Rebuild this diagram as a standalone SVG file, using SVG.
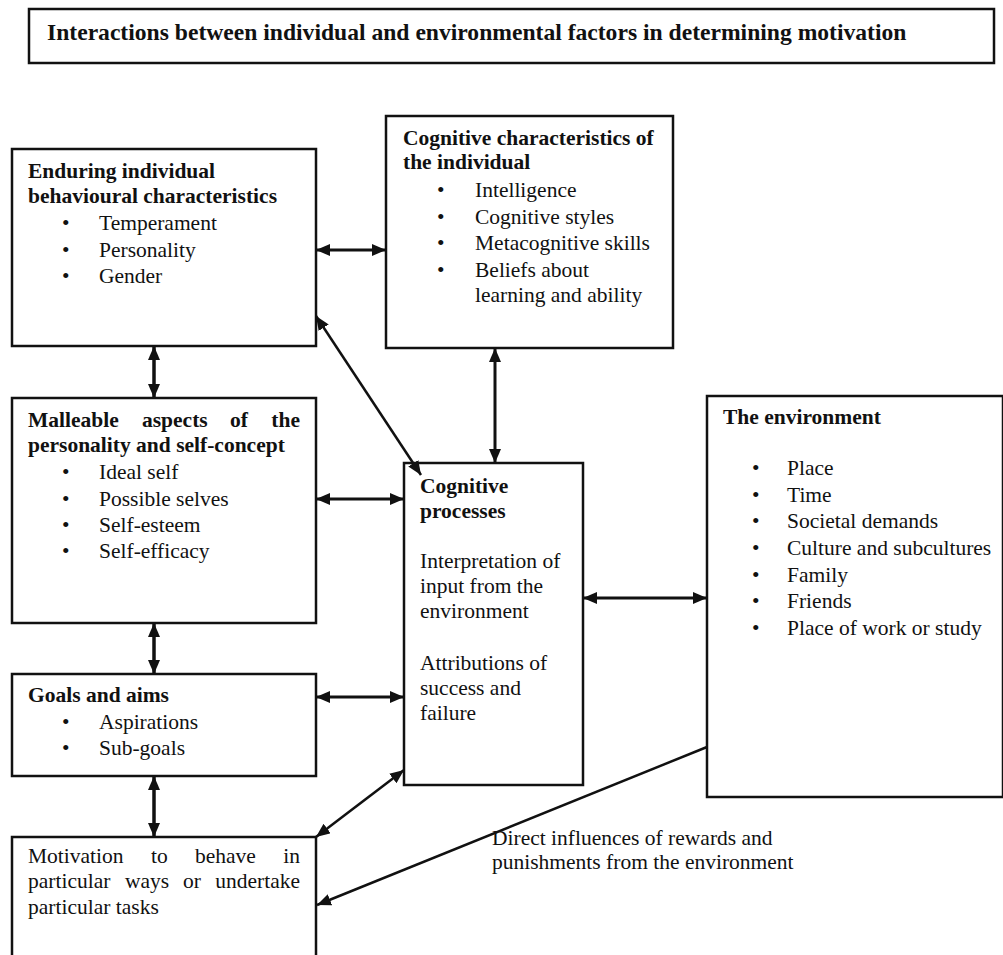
<svg xmlns="http://www.w3.org/2000/svg" width="1003" height="955" viewBox="0 0 1003 955">
<style>
text{font-family:"Liberation Serif","Times New Roman",serif;font-size:21.5px;fill:#111}
.b{font-weight:bold}
.t{font-weight:bold;font-size:23.6px}
.box{fill:#fff;stroke:#111;stroke-width:2.5}
.c{stroke:#111;stroke-width:3;fill:none}
.d{stroke:#111;stroke-width:2.5;fill:none}
</style>
<defs>
<marker id="ah" markerUnits="userSpaceOnUse" viewBox="0 0 14 12" refX="14" refY="6" markerWidth="14" markerHeight="12" orient="auto-start-reverse">
<path d="M0,0 L14,6 L0,12 Z" fill="#111"/>
</marker>
</defs>
<rect width="1003" height="955" fill="#fff"/>

<g id="title">
<rect class="box" x="29" y="9" width="965" height="54"/>
<text class="t" x="47" y="40">Interactions between individual and environmental factors in determining motivation</text>
</g>

<g id="enduring">
<rect class="box" x="12" y="149" width="304" height="197"/>
<text class="b" x="28" y="178">Enduring individual</text>
<text class="b" x="28" y="203">behavioural  characteristics</text>
<text x="62" y="230">•</text><text x="99" y="230">Temperament</text>
<text x="62" y="257">•</text><text x="99" y="257">Personality</text>
<text x="62" y="283">•</text><text x="99" y="283">Gender</text>
</g>

<g id="cognitive-characteristics">
<rect class="box" x="386" y="116" width="287" height="232"/>
<text class="b" x="403" y="145">Cognitive characteristics of</text>
<text class="b" x="403" y="169">the individual</text>
<text x="437" y="197">•</text><text x="475" y="197">Intelligence</text>
<text x="437" y="224">•</text><text x="475" y="224">Cognitive styles</text>
<text x="437" y="250">•</text><text x="475" y="250">Metacognitive skills</text>
<text x="437" y="277">•</text><text x="475" y="277">Beliefs about</text>
<text x="475" y="302">learning and ability</text>
</g>

<g id="malleable">
<rect class="box" x="12" y="398" width="304" height="225"/>
<text class="b" x="28" y="427">Malleable</text>
<text class="b" x="142" y="427">aspects</text>
<text class="b" x="230" y="427">of</text>
<text class="b" x="300" y="427" text-anchor="end">the</text>
<text class="b" x="28" y="452">personality and self-concept</text>
<text x="62" y="479">•</text><text x="99" y="479">Ideal self</text>
<text x="62" y="506">•</text><text x="99" y="506">Possible selves</text>
<text x="62" y="532">•</text><text x="99" y="532">Self-esteem</text>
<text x="62" y="558">•</text><text x="99" y="558">Self-efficacy</text>
</g>

<g id="cognitive-processes">
<rect class="box" x="404" y="463" width="179" height="322"/>
<text class="b" x="420" y="493">Cognitive</text>
<text class="b" x="420" y="518">processes</text>
<text x="420" y="568">Interpretation of</text>
<text x="420" y="593">input from the</text>
<text x="420" y="618">environment</text>
<text x="420" y="670">Attributions of</text>
<text x="420" y="695">success and</text>
<text x="420" y="720">failure</text>
</g>

<g id="environment">
<rect class="box" x="707" y="396" width="296" height="401"/>
<text class="b" x="723" y="424">The environment</text>
<text x="752" y="475">•</text><text x="787" y="475">Place</text>
<text x="752" y="502">•</text><text x="787" y="502">Time</text>
<text x="752" y="528">•</text><text x="787" y="528">Societal demands</text>
<text x="752" y="555">•</text><text x="787" y="555">Culture and subcultures</text>
<text x="752" y="582">•</text><text x="787" y="582">Family</text>
<text x="752" y="608">•</text><text x="787" y="608">Friends</text>
<text x="752" y="635">•</text><text x="787" y="635">Place of work or study</text>
</g>

<g id="goals">
<rect class="box" x="12" y="674" width="304" height="102"/>
<text class="b" x="28" y="702">Goals and aims</text>
<text x="62" y="729">•</text><text x="99" y="729">Aspirations</text>
<text x="62" y="755">•</text><text x="99" y="755">Sub-goals</text>
</g>

<g id="motivation">
<rect class="box" x="12" y="837" width="304" height="130"/>
<text x="28" y="863">Motivation</text>
<text x="151" y="863">to</text>
<text x="195" y="863">behave</text>
<text x="300" y="863" text-anchor="end">in</text>
<text x="28" y="888">particular</text>
<text x="125" y="888">ways</text>
<text x="183" y="888">or</text>
<text x="300" y="888" text-anchor="end">undertake</text>
<text x="28" y="914">particular tasks</text>
</g>

<g id="connectors">
<line class="c" x1="316" y1="250" x2="386" y2="250" marker-start="url(#ah)" marker-end="url(#ah)"/>
<line class="c" x1="154" y1="346" x2="154" y2="398" marker-start="url(#ah)" marker-end="url(#ah)" style="stroke-width:3.5"/>
<line class="d" x1="316" y1="316" x2="421" y2="475" marker-start="url(#ah)" marker-end="url(#ah)"/>
<line class="c" x1="495" y1="348" x2="495" y2="463" marker-start="url(#ah)" marker-end="url(#ah)"/>
<line class="c" x1="316" y1="499" x2="404" y2="499" marker-start="url(#ah)" marker-end="url(#ah)"/>
<line class="c" x1="154" y1="623" x2="154" y2="674" marker-start="url(#ah)" marker-end="url(#ah)" style="stroke-width:3.5"/>
<line class="c" x1="316" y1="697" x2="404" y2="697" marker-start="url(#ah)" marker-end="url(#ah)"/>
<line class="c" x1="583" y1="598" x2="707" y2="598" marker-start="url(#ah)" marker-end="url(#ah)"/>
<line class="c" x1="154" y1="776" x2="154" y2="837" marker-start="url(#ah)" marker-end="url(#ah)" style="stroke-width:3.5"/>
<line class="d" x1="316" y1="837" x2="404" y2="770" marker-start="url(#ah)" marker-end="url(#ah)"/>
<line class="d" x1="707" y1="747" x2="317" y2="905" marker-end="url(#ah)"/>
<text x="492" y="845">Direct influences of rewards and</text>
<text x="492" y="869">punishments from the environment</text>
</g>
</svg>
